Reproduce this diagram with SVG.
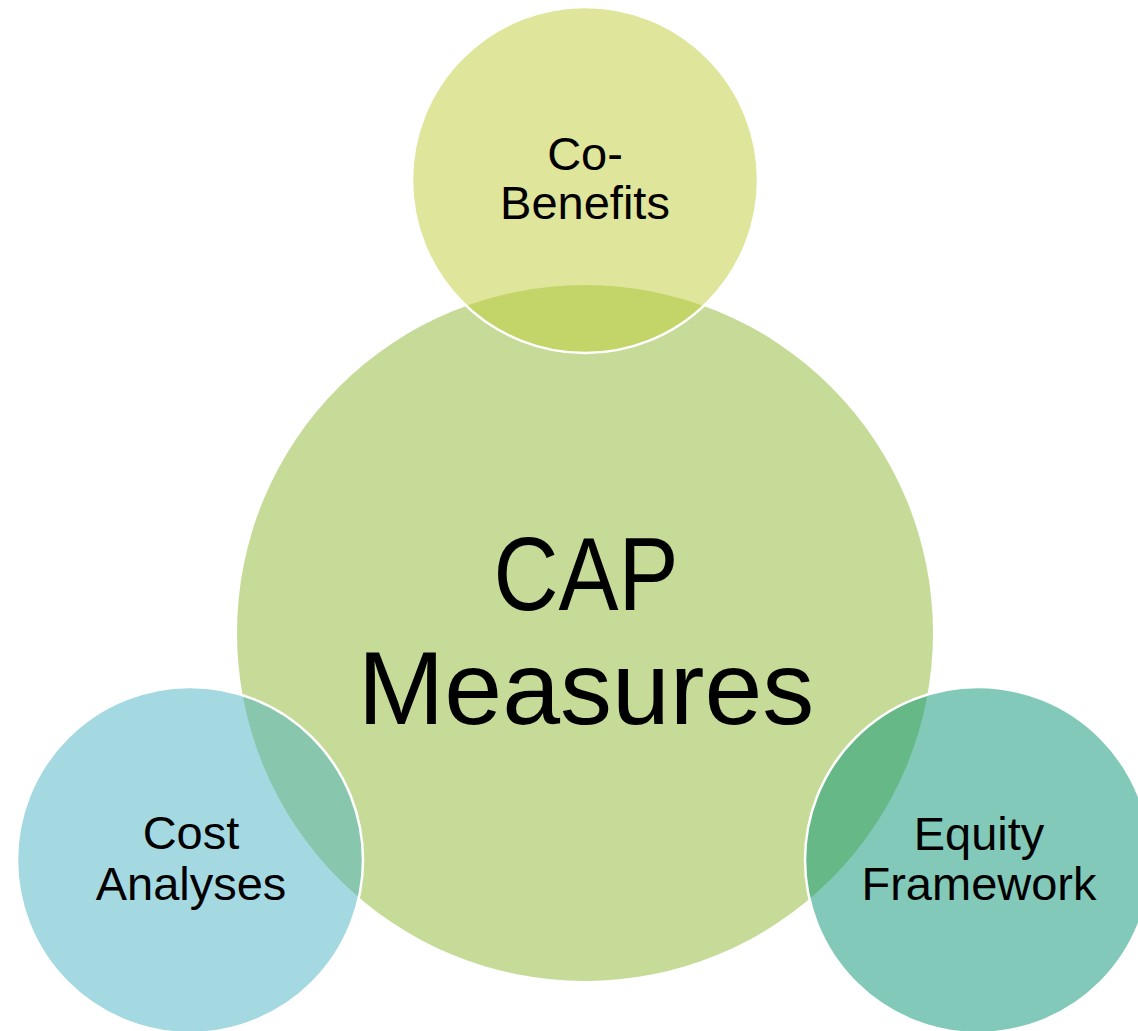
<svg xmlns="http://www.w3.org/2000/svg" width="1138" height="1031" viewBox="0 0 1138 1031">
<style>
text{font-family:"Liberation Sans",Arial,sans-serif;fill:#000;text-anchor:middle}
.sm{font-size:47px}
.big{font-size:104px}
.sat{stroke:#fff;stroke-width:2.5}
</style>
<rect width="1138" height="1031" fill="#fff"/>
<g id="cap-measures">
<circle cx="585" cy="633" r="348" fill="#C5DB97"/>
<text class="big" x="586" y="610" textLength="185" lengthAdjust="spacingAndGlyphs">CAP</text>
<text class="big" x="586" y="724">Measures</text>
</g>
<g id="co-benefits">
<circle class="sat" cx="585" cy="180" r="173" fill="#C1CD3E" fill-opacity="0.52"/>
<text class="sm" x="585" y="170">Co-</text>
<text class="sm" x="585" y="219">Benefits</text>
</g>
<g id="cost-analyses">
<circle class="sat" cx="190" cy="860" r="173" fill="#4BB3C3" fill-opacity="0.5"/>
<text class="sm" x="191" y="849">Cost</text>
<text class="sm" x="191" y="900">Analyses</text>
</g>
<g id="equity-framework">
<circle class="sat" cx="978" cy="860" r="173" fill="#0F9778" fill-opacity="0.52"/>
<text class="sm" x="979" y="850">Equity</text>
<text class="sm" x="979" y="900">Framework</text>
</g>
<g id="connectors"></g>
</svg>
